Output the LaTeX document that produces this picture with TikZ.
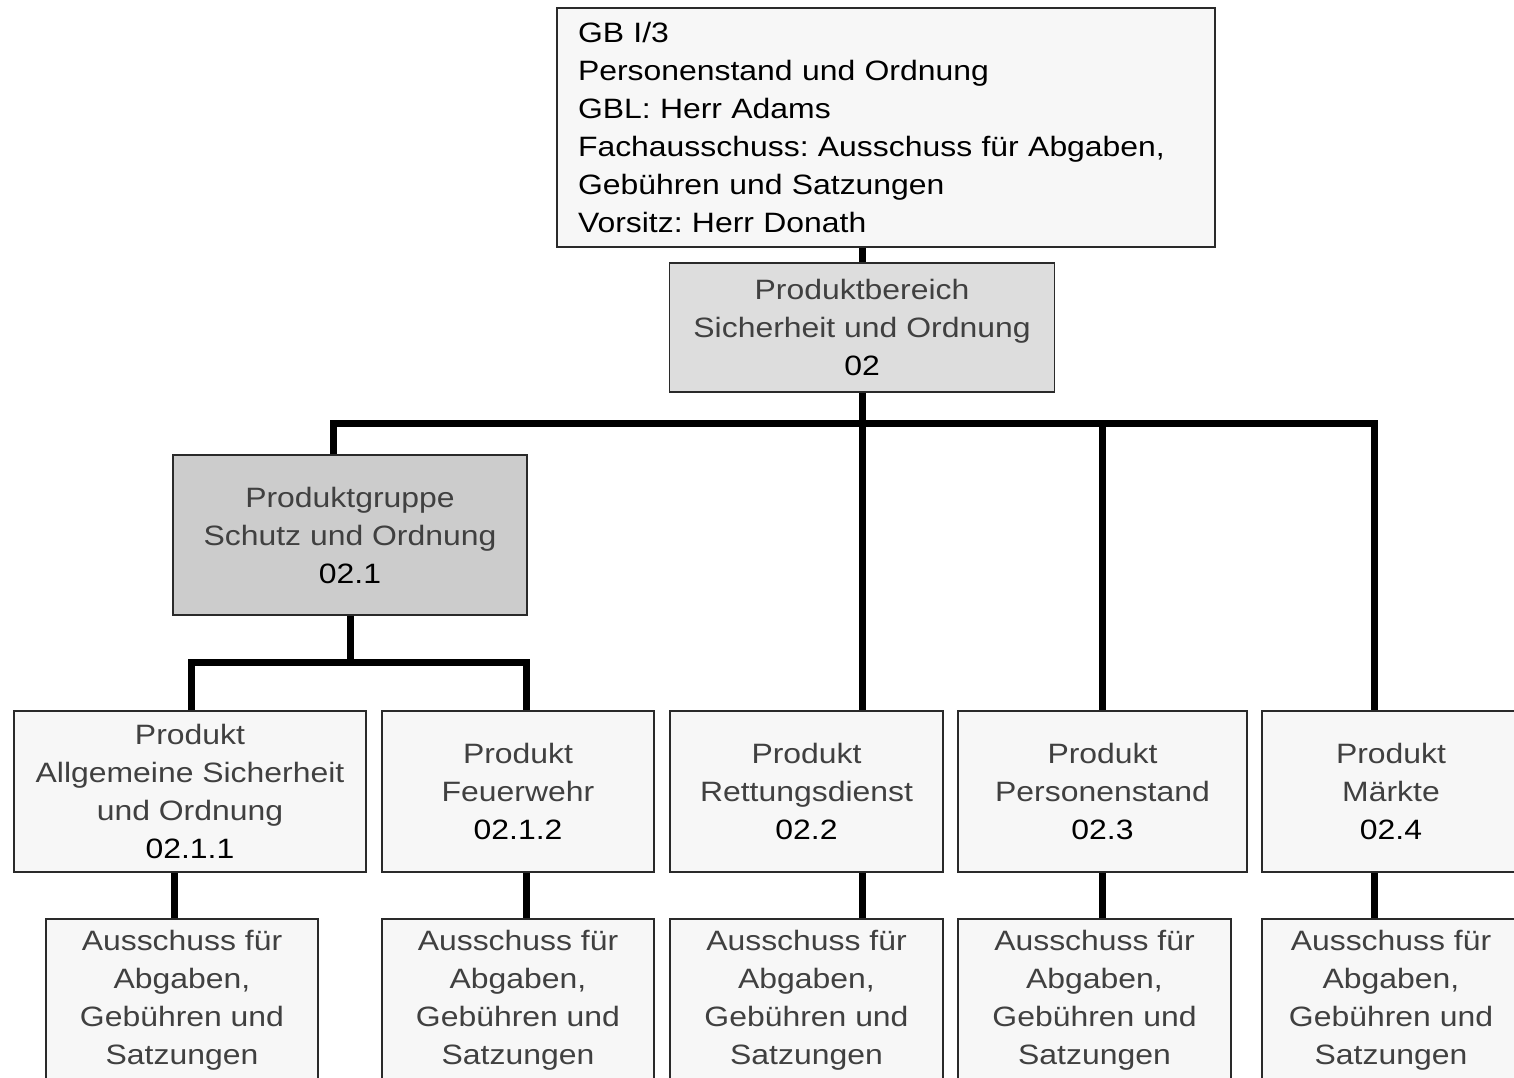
\documentclass[tikz,border=0pt]{standalone}
\usepackage{fontspec}
\setmainfont[FakeStretch=1.14]{Liberation Sans}
\frenchspacing
\definecolor{boxfill}{HTML}{F7F7F7}
\definecolor{pbfill}{HTML}{DDDDDD}
\definecolor{pgfill}{HTML}{CCCCCC}
\definecolor{txtgray}{HTML}{404040}
\definecolor{edge}{HTML}{2A2A2A}
\begin{document}
\begin{tikzpicture}[x=1pt,y=-1pt,
  every node/.style={font=\fontsize{28}{38}\selectfont},
  orgbox/.style={draw=edge, line width=1.5pt, fill=boxfill, inner sep=0pt, align=center, text=txtgray, minimum height=161pt},
  subbox/.style={orgbox, minimum height=163pt},
  conn/.style={line width=7pt, black, line cap=butt, line join=miter}]
\useasboundingbox (0,0) rectangle (1514,1077);
\clip (0,0) rectangle (1514,1077);
\fill[white] (0,0) rectangle (1514,1077);

% top box
\node[draw=edge, line width=1.5pt, fill=boxfill, inner xsep=21pt, inner ysep=0pt, text width=616pt, align=left, minimum height=239pt, text=black] (top) at (886,127.5)
 {GB I/3\\Personenstand und Ordnung\\GBL: Herr Adams\\Fachausschuss: Ausschuss für Abgaben,\\Gebühren und Satzungen\\Vorsitz: Herr Donath};

\node[orgbox, fill=pbfill, minimum width=385pt, minimum height=129pt] (pb) at (862,327.5)
 {Produktbereich\\Sicherheit und Ordnung\\{\color{black}02}};

\node[orgbox, fill=pgfill, minimum width=354pt, minimum height=160pt] (pg) at (350,535)
 {Produktgruppe\\Schutz und Ordnung\\{\color{black}02.1}};

% products
\node[orgbox, minimum width=352pt] (p1) at (190,791.5) {Produkt\\Allgemeine Sicherheit\\und Ordnung\\{\color{black}02.1.1}};
\node[orgbox, minimum width=272pt] (p2) at (518,791.5) {Produkt\\Feuerwehr\\{\color{black}02.1.2}};
\node[orgbox, minimum width=273pt] (p3) at (806.5,791.5) {Produkt\\Rettungsdienst\\{\color{black}02.2}};
\node[orgbox, minimum width=289pt] (p4) at (1102.5,791.5) {Produkt\\Personenstand\\{\color{black}02.3}};
\node[orgbox, minimum width=258pt] (p5) at (1391,791.5) {Produkt\\Märkte\\{\color{black}02.4}};

% committees
\node[subbox, minimum width=272pt] (b1) at (182,1000.5) {Ausschuss für\\Abgaben,\\Gebühren und\\Satzungen};
\node[subbox, minimum width=272pt] (b2) at (518,1000.5) {Ausschuss für\\Abgaben,\\Gebühren und\\Satzungen};
\node[subbox, minimum width=273pt] (b3) at (806.5,1000.5) {Ausschuss für\\Abgaben,\\Gebühren und\\Satzungen};
\node[subbox, minimum width=273pt] (b4) at (1094.5,1000.5) {Ausschuss für\\Abgaben,\\Gebühren und\\Satzungen};
\node[subbox, minimum width=258pt] (b5) at (1391,1000.5) {Ausschuss für\\Abgaben,\\Gebühren und\\Satzungen};

% junction coordinates
\coordinate (xa) at (333,423);
\coordinate (xm) at (862,423);
\coordinate (xd) at (1102,423);
\coordinate (xe) at (1374,423);
\coordinate (ga) at (350,662);
\coordinate (gl) at (191,662);
\coordinate (gr) at (526,662);
\coordinate (c1) at (174,0);

% connectors
\draw[conn] (top.south -| xm) -- (pb.north -| xm);
\draw[conn] (pb.south -| xm) -- (p3.north -| xm);
\draw[conn] (pg.north -| xa) -- (xa) -- (xe) -- (p5.north -| xe);
\draw[conn] (xd) -- (p4.north -| xd);
\draw[conn] (pg.south -| ga) -- (ga);
\draw[conn] (p1.north -| gl) -- (gl) -- (gr) -- (p2.north -| gr);
\draw[conn] (p1.south -| c1) -- (b1.north -| c1);
\draw[conn] (p2.south -| gr) -- (b2.north -| gr);
\draw[conn] (p3.south -| xm) -- (b3.north -| xm);
\draw[conn] (p4.south -| xd) -- (b4.north -| xd);
\draw[conn] (p5.south -| xe) -- (b5.north -| xe);
\end{tikzpicture}
\end{document}
